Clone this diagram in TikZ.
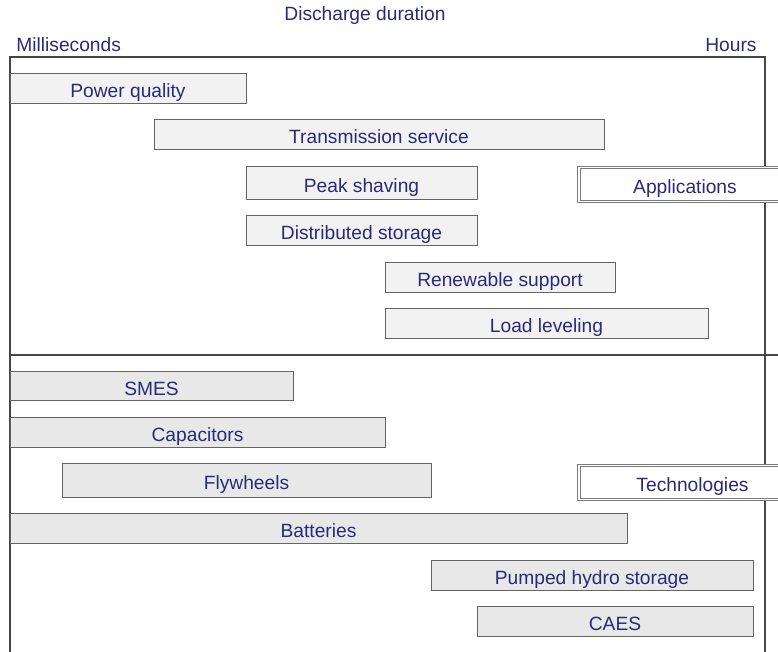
\documentclass[tikz,border=0pt]{standalone}
\usepackage{fontspec}
\setmainfont{Liberation Sans}
\definecolor{txt}{RGB}{42,42,122}
\definecolor{appfill}{RGB}{242,242,242}
\definecolor{techfill}{RGB}{232,232,232}
\definecolor{edge}{RGB}{100,100,100}
\definecolor{frame}{RGB}{70,70,70}
\begin{document}
\begin{tikzpicture}[x=0.5pt,y=-0.5pt,
  every node/.style={font=\fontsize{9.6pt}{11pt}\selectfont,text=txt,inner sep=0pt},
  barbase/.style={draw=edge,line width=0.5pt,minimum height=15pt,text height=8.6pt,text depth=0pt},
  appbar/.style={barbase,fill=appfill},
  techbar/.style={barbase,fill=techfill},
  catbox/.style={draw=edge!85,line width=0.55pt,double=white,double distance=0.8pt,fill=white,minimum height=17pt,text height=8.6pt,text depth=0pt},
  frameline/.style={draw=frame,line width=0.7pt},
  lbl/.style={}]
\clip (0,0) rectangle (778,652);
\useasboundingbox (0,0) rectangle (778,652);
% labels
\node[lbl] (dd) at (365,16) {Discharge duration};
\node[lbl,anchor=west] (ms) at (16,45) {Milliseconds};
\node[lbl,anchor=east] (hr) at (757,45) {Hours};
% frame
\coordinate (tl) at (10,57);
\coordinate (tr) at (765,57);
\coordinate (bl) at (10,660);
\coordinate (br) at (765,660);
\coordinate (dl) at (10,355);
\coordinate (dr) at (790,355);
\draw[frameline] (bl) -- (tl) -- (tr) -- (br);
\draw[frameline] (dl) -- (dr);
% applications
\node[appbar,minimum width=118pt] (pq) at (128,89) {Power quality};
\node[appbar,minimum width=225pt] (ts) at (379,135) {Transmission service};
\node[appbar,minimum width=115.5pt,minimum height=16.5pt] (ps) at (361.5,183.5) {Peak shaving};
\node[appbar,minimum width=115.5pt] (ds) at (361.5,231) {Distributed storage};
\node[appbar,minimum width=115pt] (rs) at (500,278) {Renewable support};
\node[appbar,minimum width=161.5pt] (ll) at (546.5,324) {Load leveling};
\node[catbox,minimum width=106pt] (app) at (685,184.5) {Applications};
% technologies
\node[techbar,minimum width=141.5pt,minimum height=14.5pt] (smes) at (151.5,386.5) {SMES};
\node[techbar,minimum width=187.5pt] (cap) at (197.5,433) {Capacitors};
\node[techbar,minimum width=184.5pt,minimum height=17pt] (fly) at (246.5,481) {Flywheels};
\node[techbar,minimum width=308.5pt] (bat) at (318.5,529) {Batteries};
\node[techbar,minimum width=161pt] (phs) at (592,576) {Pumped hydro storage};
\node[techbar,minimum width=138pt] (caes) at (615,622) {CAES};
\node[catbox,minimum width=113.5pt] (tech) at (692.5,482.5) {Technologies};
\end{tikzpicture}
\end{document}
